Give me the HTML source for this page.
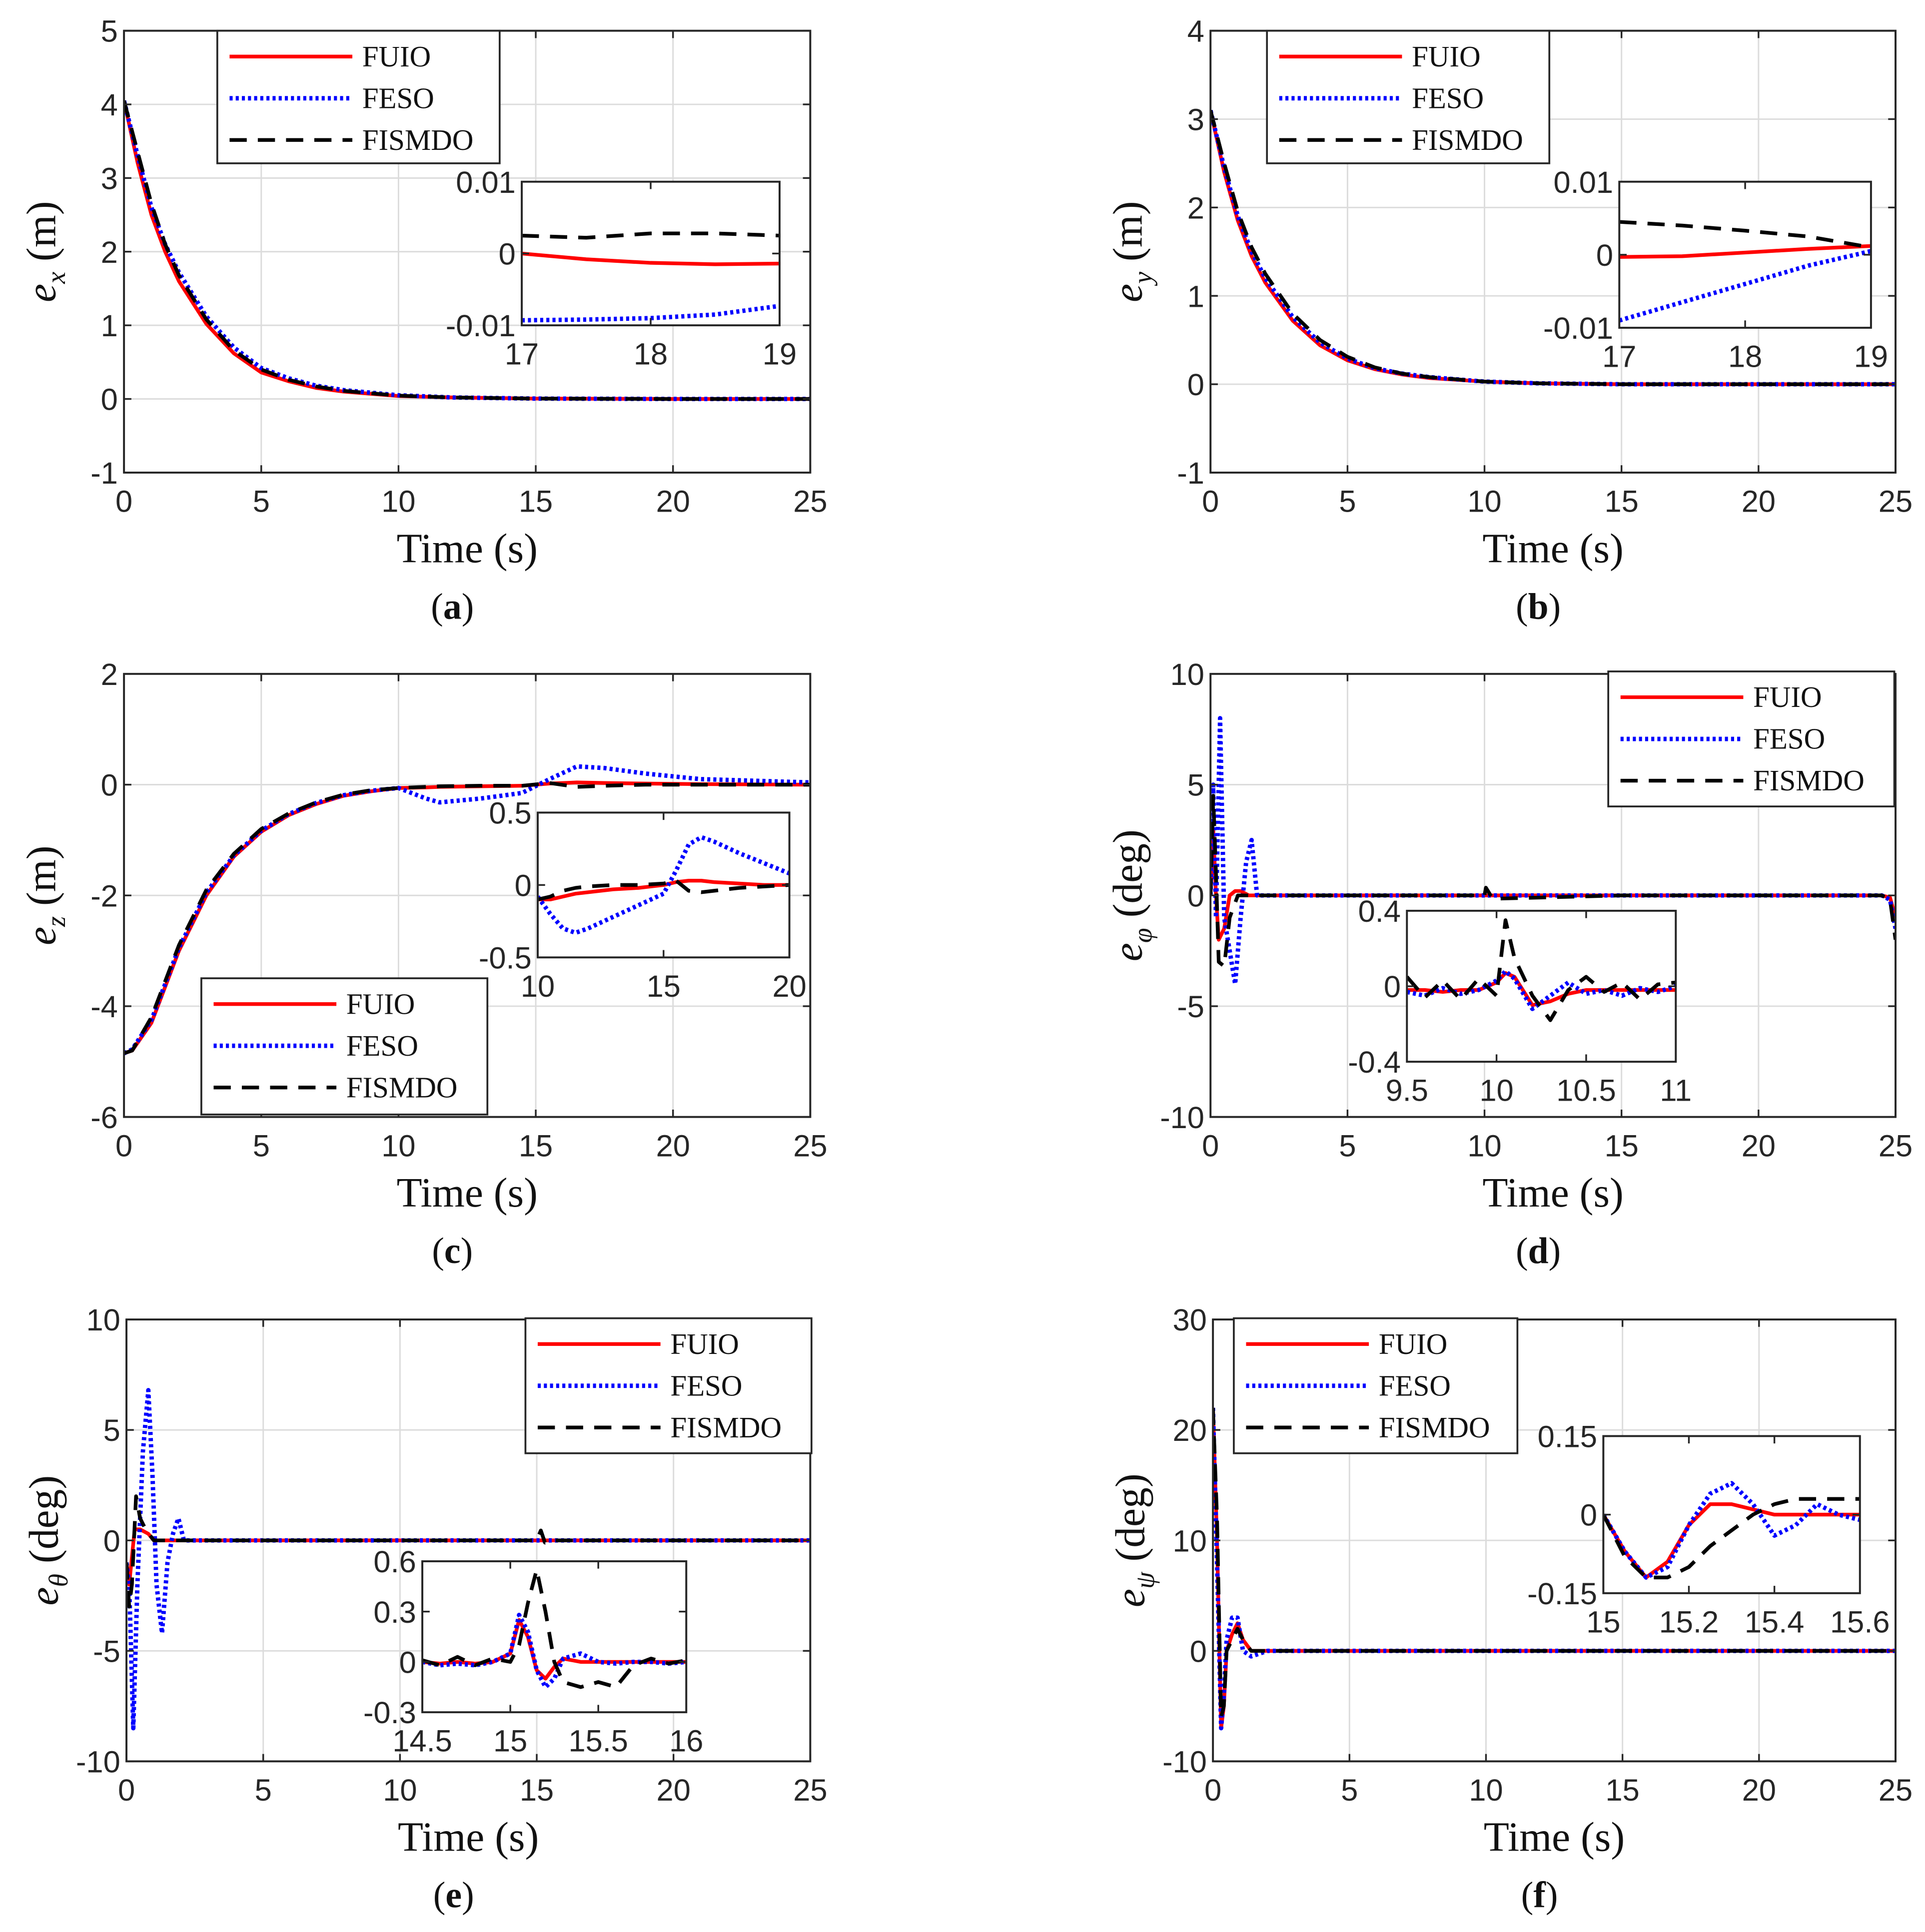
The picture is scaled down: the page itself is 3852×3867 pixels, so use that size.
<!DOCTYPE html>
<html><head><meta charset="utf-8"><style>
html,body{margin:0;padding:0;background:#fff}
svg{display:block}
text{font-family:"Liberation Sans",sans-serif;fill:#262626}
.ser{font-family:"Liberation Serif",serif;fill:#111}
</style></head><body>
<svg id="fig" width="3852" height="3867" viewBox="0 0 1568 1574" xmlns="http://www.w3.org/2000/svg"></svg>
<script>
// ---------- Data ----------
const aT=[0,0.5,1,1.5,2,3,4,5,6,7,8,10,12,15,20,25];
const aFUIO=[4.05,3.2,2.5,2.0,1.6,1.02,0.62,0.36,0.24,0.15,0.1,0.04,0.02,0.005,0,0];
const aFESO=[4.05,3.3,2.6,2.1,1.72,1.12,0.7,0.42,0.28,0.18,0.12,0.05,0.02,0.005,0,0];
const aFISMDO=[4.05,3.35,2.65,2.1,1.68,1.08,0.66,0.4,0.26,0.17,0.11,0.045,0.02,0.005,0,0];
const aiT=[17,17.5,18,18.5,19];
const aiFUIO=[0,-0.0008,-0.0013,-0.0015,-0.0014];
const aiFESO=[-0.0093,-0.0092,-0.009,-0.0085,-0.0073];
const aiFISMDO=[0.0025,0.0022,0.0028,0.0028,0.0025];
const bT=[0,0.5,1,1.5,2,3,4,5,6,7,8,10,12,15,20,25];
const bFUIO=[3.1,2.4,1.85,1.45,1.15,0.72,0.44,0.27,0.17,0.11,0.07,0.03,0.01,0,0,0];
const bFESO=[3.1,2.45,1.9,1.5,1.2,0.76,0.47,0.29,0.18,0.12,0.08,0.03,0.01,0,0,0];
const bFISMDO=[3.1,2.5,1.95,1.55,1.25,0.8,0.5,0.31,0.19,0.12,0.08,0.03,0.01,0,0,0];
const biT=[17,17.5,18,18.5,19];
const biFUIO=[-0.0003,-0.0002,0.0003,0.0008,0.0012];
const biFESO=[-0.009,-0.0065,-0.004,-0.0015,0.0005];
const biFISMDO=[0.0045,0.004,0.0033,0.0025,0.001];
const cT=[0,0.3,1,2,3,4,5,6,7,8,9,10,11,11.5,13,14.5,15.5,16.5,17.5,19,21,25];
const cFUIO=[-4.85,-4.8,-4.3,-3.0,-2.0,-1.3,-0.85,-0.55,-0.35,-0.2,-0.12,-0.06,-0.05,-0.04,-0.03,-0.02,0.02,0.04,0.03,0.02,0.01,0];
const cFESO=[-4.85,-4.78,-4.25,-2.95,-1.95,-1.28,-0.83,-0.53,-0.33,-0.19,-0.11,-0.06,-0.25,-0.32,-0.25,-0.15,0.1,0.33,0.3,0.2,0.1,0.04];
const cFISMDO=[-4.85,-4.8,-4.2,-2.9,-1.9,-1.25,-0.8,-0.52,-0.32,-0.18,-0.1,-0.06,-0.04,-0.03,-0.02,-0.02,0.03,-0.04,-0.02,0,0,0];
const ciT=[10,10.5,11,11.5,12,13,14,15,15.5,16,16.5,17,18,19,20];
const ciFUIO=[-0.1,-0.1,-0.08,-0.06,-0.05,-0.03,-0.02,0,0.02,0.03,0.03,0.02,0.01,0,0];
const ciFESO=[-0.08,-0.2,-0.3,-0.33,-0.3,-0.22,-0.14,-0.06,0.1,0.28,0.33,0.3,0.22,0.15,0.08];
const ciFISMDO=[-0.1,-0.08,-0.04,-0.02,-0.01,0,0,0.01,0.03,-0.04,-0.05,-0.04,-0.02,-0.01,0];
const dT1=[0,0.1,0.2,0.3,0.5,0.7,0.9,1.1,1.4,1.7,2,10,15,24.5,24.8,25];
const dFUIO=[0,3,0,-2,-1.5,0,0.2,0.2,0,0,0,0,0,0,-0.1,-1];
const dT2=[0,0.1,0.2,0.35,0.5,0.7,0.9,1.1,1.3,1.5,1.7,2,10,24.5,24.8,25];
const dFESO=[0,5,-1,8,-1,-2.5,-4,-1,1.5,2.5,0,0,0,0,-0.2,-1.5];
const dT3=[0,0.1,0.2,0.3,0.5,0.7,1,1.5,2,10,10.05,10.3,15,24.5,24.8,25];
const dFISMDO=[0,4.5,1,-3,-3.2,-1,0,0,0,0,0.35,-0.15,0,0,-0.2,-2];
const diT=[9.5,9.6,9.7,9.8,9.9,10,10.05,10.1,10.2,10.3,10.4,10.5,10.6,10.7,10.8,10.9,11];
const diFUIO=[-0.02,-0.02,-0.03,-0.02,-0.02,0.02,0.07,0.05,-0.1,-0.08,-0.04,-0.02,-0.02,-0.02,-0.02,-0.02,-0.02];
const diFESO=[-0.03,-0.05,-0.01,-0.04,-0.02,0.03,0.08,0.04,-0.12,-0.05,0.02,-0.04,-0.02,-0.05,-0.01,-0.03,0];
const diFISMDO=[0.05,-0.06,0.03,-0.07,0.04,-0.05,0.35,0.15,-0.05,-0.18,-0.02,0.05,-0.03,0.02,-0.07,0.01,0.02];
const eT1=[0,0.1,0.3,0.5,0.8,1,1.5,2,25];
const eFUIO=[-1,-2,0.5,0.5,0.3,0,0,0,0];
const eT2=[0,0.1,0.25,0.4,0.6,0.8,0.95,1.1,1.3,1.5,1.7,1.9,2.1,2.5,25];
const eFESO=[-1,-2,-8.5,-2,4,6.8,3,-2,-4.2,-1,0.3,1,0,0,0];
const eT3=[0,0.1,0.2,0.35,0.5,0.7,1,1.5,2.5,15,15.15,15.3,15.5,25];
const eFISMDO=[-1,-3,-2,2,1,0.5,0,0,0,0,0.45,-0.1,0,0];
const eiT=[14.5,14.6,14.7,14.8,14.9,15,15.05,15.1,15.15,15.2,15.25,15.3,15.4,15.5,15.6,15.7,15.8,15.9,16];
const eiFUIO=[0,-0.01,0,-0.01,0,0.05,0.25,0.15,-0.05,-0.1,-0.03,0.02,0,0,0,0,0,0,0];
const eiFESO=[0,-0.02,-0.01,-0.02,0,0.05,0.28,0.18,-0.05,-0.15,-0.1,0.02,0.05,0,-0.01,0,0,-0.01,0];
const eiFISMDO=[0.01,-0.02,0.03,-0.02,0.02,0,0.1,0.35,0.55,0.3,0,-0.12,-0.15,-0.12,-0.15,-0.02,0.02,-0.01,0.01];
const fT=[0,0.15,0.3,0.4,0.5,0.7,0.9,1.1,1.4,2,25];
const fFUIO=[22,10,-7,-5,0,1.5,2.5,1,0,0,0];
const fFESO=[22,8,-7,-4,1,3,3,0,-0.5,0,0];
const fFISMDO=[22,12,-6,-5,0,1,2,1,0,0,0];
const fiT=[15,15.05,15.1,15.15,15.2,15.25,15.3,15.35,15.4,15.45,15.5,15.55,15.6];
const fiFUIO=[0,-0.07,-0.12,-0.09,-0.02,0.02,0.02,0.01,0,0,0,0,0];
const fiFESO=[0,-0.07,-0.12,-0.1,-0.02,0.04,0.06,0.02,-0.04,-0.02,0.02,0,-0.01];
const fiFISMDO=[0,-0.08,-0.12,-0.12,-0.1,-0.06,-0.03,0,0.02,0.03,0.03,0.03,0.03];

// ---------- Drawing ----------
const NS="http://www.w3.org/2000/svg";
const svg=document.getElementById('fig');
function mk(tag,attrs,parent,txt){const e=document.createElementNS(NS,tag);for(const k in attrs)e.setAttribute(k,attrs[k]);if(txt!==undefined)e.textContent=txt;(parent||svg).appendChild(e);return e;}
const STY={FUIO:{stroke:'#ff0000',w:3,d:''},FESO:{stroke:'#0000ff',w:3.6,d:'2.5 2.5'},FISMDO:{stroke:'#000',w:3,d:'14 9'}};
function axes(L,T,R,B,x0,x1,y0,y1,xt,yt,grid,fs,name,xlbl){
  const g=mk('g',{});
  
  
  const sx=v=>L+(v-x0)/(x1-x0)*(R-L), sy=v=>B-(v-y0)/(y1-y0)*(B-T);
  mk('rect',{x:L,y:T,width:R-L,height:B-T,fill:'#fff'},g);
  if(grid){xt.forEach(v=>mk('line',{x1:sx(v),x2:sx(v),y1:T,y2:B,stroke:'#dcdcdc','stroke-width':1.2},g));
    yt.forEach(v=>mk('line',{x1:L,x2:R,y1:sy(v),y2:sy(v),stroke:'#dcdcdc','stroke-width':1.2},g));}
  return {g,sx,sy,L,T,R,B,xt,yt,fs,xlbl};
}
function finish(a){
  const {g,sx,sy,L,T,R,B,xt,yt,fs,xlbl}=a;
  mk('rect',{x:L,y:T,width:R-L,height:B-T,fill:'none',stroke:'#262626','stroke-width':1.6},g);
  xt.forEach(v=>{mk('line',{x1:sx(v),x2:sx(v),y1:B,y2:B-6,stroke:'#262626','stroke-width':1.4},g);mk('line',{x1:sx(v),x2:sx(v),y1:T,y2:T+6,stroke:'#262626','stroke-width':1.4},g);
    const t=mk('text',{x:sx(v),y:B+fs+7,'text-anchor':'middle','font-size':fs},g,(xlbl?xlbl(v):String(v)));
    });
  yt.forEach(v=>{mk('line',{x1:L,x2:L+6,y1:sy(v),y2:sy(v),stroke:'#262626','stroke-width':1.4},g);mk('line',{x1:R,x2:R-6,y1:sy(v),y2:sy(v),stroke:'#262626','stroke-width':1.4},g);
    const t=mk('text',{x:L-5,y:sy(v)+fs*0.36,'text-anchor':'end','font-size':fs},g,String(v));
    });
}
function series(a,ts,vs,key,clip){
  const s=STY[key];
  const p=ts.map((t,i)=>(i?'L':'M')+a.sx(t).toFixed(2)+','+a.sy(vs[i]).toFixed(2)).join('');
  const e=mk('path',{d:p,fill:'none',stroke:s.stroke,'stroke-width':s.w,'stroke-dasharray':s.d,'stroke-linejoin':'round','clip-path':'url(#'+clip+')'},a.g);
  
  
}
let clipN=0;
function clip(a){const id='c'+(clipN++);const c=mk('clipPath',{id:id});mk('rect',{x:a.L,y:a.T,width:a.R-a.L,height:a.B-a.T},c);return id;}
function legend(x,y,w,h){
  const g=mk('g',{});
  
  
  mk('rect',{x:x,y:y,width:w,height:h,fill:'#fff',stroke:'#262626','stroke-width':1.5},g);
  ['FUIO','FESO','FISMDO'].forEach((k,i)=>{const yy=y+21+i*34;const s=STY[k];
    mk('line',{x1:x+10,x2:x+110,y1:yy,y2:yy,stroke:s.stroke,'stroke-width':s.w,'stroke-dasharray':s.d},g);
    const t=mk('text',{x:x+118,y:yy+8,'font-size':24,class:'ser'},g,k);
    });
}
function ylabel(x,y,sub,unit){
  const t=mk('text',{transform:`translate(${x},${y}) rotate(-90)`,'text-anchor':'middle','font-size':34,class:'ser'});
  
  mk('tspan',{'font-style':'italic'},t,'e');
  mk('tspan',{'font-style':'italic','font-size':22,dy:8},t,sub);
  mk('tspan',{dy:-8},t,'  ('+unit+')');
}
function xlabel(cx,y,cap,cy){
  const t=mk('text',{x:cx,y:y,'text-anchor':'middle','font-size':34,class:'ser'},svg,'Time (s)');
  
  const c=mk('text',{x:cx-12,y:cy,'text-anchor':'middle','font-size':30,class:'ser'});
  
  mk('tspan',{},c,'(');mk('tspan',{'font-weight':'bold'},c,cap);mk('tspan',{},c,')');
}
const XT=[0,5,10,15,20,25];
function panel(box,yr,yt,d1,d2,d3,ibox,ixr,iyr,ixt,iyt,id1,id2,id3,leg,ylab,cap,ixl){
  const a=axes(box[0],box[1],box[2],box[3],0,25,yr[0],yr[1],XT,yt,true,25,'plot-'+cap);
  const c=clip(a);
  series(a,d1[0],d1[1],'FUIO',c);series(a,d2[0],d2[1],'FESO',c);series(a,d3[0],d3[1],'FISMDO',c);
  finish(a);
  if(ibox){const b=axes(ibox[0],ibox[1],ibox[2],ibox[3],ixr[0],ixr[1],iyr[0],iyr[1],ixt,iyt,false,25,'inset-'+cap,ixl);
    const ci=clip(b);series(b,id1[0],id1[1],'FUIO',ci);series(b,id2[0],id2[1],'FESO',ci);series(b,id3[0],id3[1],'FISMDO',ci);finish(b);}
  legend(leg[0],leg[1],leg[2],leg[3]);
  ylabel(box[0]-56,(box[1]+box[3])/2,ylab[0],ylab[1]);
  xlabel((box[0]+box[2])/2,box[3]+73,cap,box[3]+119);
}
panel([101,25,660,385],[-1,5],[-1,0,1,2,3,4,5],[aT,aFUIO],[aT,aFESO],[aT,aFISMDO],
  [425,148,635,265],[17,19],[-0.01,0.01],[17,18,19],[-0.01,0,0.01],[aiT,aiFUIO],[aiT,aiFESO],[aiT,aiFISMDO],
  [177,25,230,108],['x','m'],'a');
panel([986,25,1544,385],[-1,4],[-1,0,1,2,3,4],[bT,bFUIO],[bT,bFESO],[bT,bFISMDO],
  [1319,148,1524,267],[17,19],[-0.01,0.01],[17,18,19],[-0.01,0,0.01],[biT,biFUIO],[biT,biFESO],[biT,biFISMDO],
  [1032,25,230,108],['y','m'],'b');
panel([101,549,660,910],[-6,2],[-6,-4,-2,0,2],[cT,cFUIO],[cT,cFESO],[cT,cFISMDO],
  [438,662,643,780],[10,20],[-0.5,0.5],[10,15,20],[-0.5,0,0.5],[ciT,ciFUIO],[ciT,ciFESO],[ciT,ciFISMDO],
  [164,797,233,111],['z','m'],'c');
panel([986,549,1544,910],[-10,10],[-10,-5,0,5,10],[dT1,dFUIO],[dT2,dFESO],[dT3,dFISMDO],
  [1146,742,1365,865],[9.5,11],[-0.4,0.4],[9.5,10,10.5,11],[-0.4,0,0.4],[diT,diFUIO],[diT,diFESO],[diT,diFISMDO],
  [1310,547,233,110],['φ','deg'],'d');
panel([103,1075,660,1435],[-10,10],[-10,-5,0,5,10],[eT1,eFUIO],[eT2,eFESO],[eT3,eFISMDO],
  [344,1272,559,1395],[14.5,16],[-0.3,0.6],[14.5,15,15.5,16],[-0.3,0,0.3,0.6],[eiT,eiFUIO],[eiT,eiFESO],[eiT,eiFISMDO],
  [428,1074,233,110],['θ','deg'],'e');
panel([988,1075,1544,1435],[-10,30],[-10,0,10,20,30],[fT,fFUIO],[fT,fFESO],[fT,fFISMDO],
  [1306,1170,1515,1298],[15,15.6],[-0.15,0.15],[15,15.2,15.4,15.6],[-0.15,0,0.15],[fiT,fiFUIO],[fiT,fiFESO],[fiT,fiFISMDO],
  [1005,1074,231,110],['ψ','deg'],'f');
</script>
</body></html>
